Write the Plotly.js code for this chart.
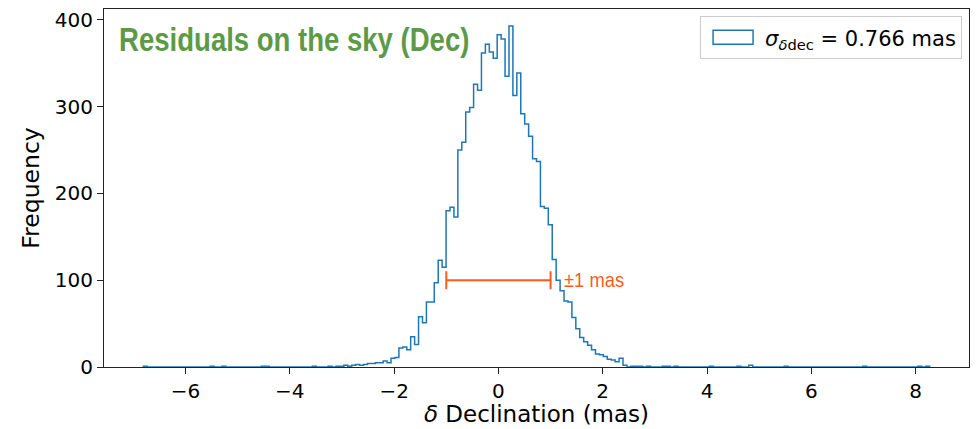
<!DOCTYPE html>
<html>
<head>
<meta charset="utf-8">
<script src="https://cdn.plot.ly/plotly-3.0.1.min.js"></script>
<style>
  html, body { margin: 0; padding: 0; background: #ffffff; }
  #chart { width: 978px; height: 429px; }
  /* condensed look for the heading and the scale-bar label */
  .annotation-text { transform-box: fill-box; transform-origin: 0% 50%; }
</style>
</head>
<body>
<div id="chart"></div>
<script>
// Declination residuals, 200 equal-width bins (step outline)
const binStart = -6.81;
const binWidth = 0.0754;
const counts = [
  1, 0, 0, 0, 0, 0, 0, 0, 0, 0,
  0, 0, 0, 0, 0, 0, 0, 1, 0, 0,
  1, 0, 0, 0, 0, 0, 0, 0, 0, 0,
  1, 1, 0, 0, 0, 0, 0, 0, 0, 0,
  0, 0, 0, 1, 0, 0, 0, 1, 0, 1,
  1, 2, 1, 2, 3, 2, 3, 4, 4, 5,
  5, 7, 5, 10, 11, 22, 23, 20, 35, 26,
  58, 51, 75, 75, 97, 123, 115, 180, 184, 173,
  250, 259, 294, 299, 326, 319, 362, 372, 363, 356,
  383, 378, 335, 393, 313, 339, 292, 280, 266, 240,
  237, 185, 183, 164, 124, 100, 88, 76, 75, 57,
  44, 34, 29, 25, 20, 15, 14, 12, 9, 8,
  6, 10, 2, 0, 1, 1, 1, 0, 1, 0,
  0, 0, 1, 1, 0, 1, 0, 0, 0, 0,
  0, 0, 0, 0, 1, 0, 0, 0, 0, 0,
  0, 1, 0, 0, 2, 0, 0, 0, 0, 0,
  0, 0, 0, 1, 0, 0, 0, 0, 0, 0,
  0, 0, 0, 0, 0, 0, 0, 0, 0, 0,
  0, 0, 0, 1, 0, 0, 0, 0, 0, 0,
  0, 0, 0, 0, 0, 0, 0, 1, 0, 1
];

const sigmaDec = 0.766;            // quoted scatter, mas
const scaleCenter = 0;             // ±1 mas scale bar
const scaleHalf = 1;
const scaleLevel = 100;

const xTickVals = [-6, -4, -2, 0, 2, 4, 6, 8];
const xTickText = ['\u22126', '\u22124', '\u22122', '0', '2', '4', '6', '8'];
const yTickVals = [0, 100, 200, 300, 400];
const yTickText = ['0', '100', '200', '300', '400'];

const histBlue = '#1f77b4';
const accent = '#ff5b1c';
const titleGreen = '#5d9a48';
const axisFont = 'DejaVu Sans, Liberation Sans, sans-serif';
const headFont = 'Liberation Sans, Arial, sans-serif';

// Step outline: up from zero at the first edge, across each bin, down at the last edge
const nBins = counts.length;
const edges = counts.map((_, i) => binStart + i * binWidth);
const lastEdge = binStart + nBins * binWidth;
const stepX = [binStart].concat(edges, [lastEdge]);
const stepY = [0].concat(counts, [0]);

// Axis limits with 5% padding, as a default histogram figure would have
const pad = 0.05 * (lastEdge - binStart);
const xRange = [binStart - pad, lastEdge + pad];
const yRange = [0, Math.max(...counts) * 1.05];

const traces = [
  {
    type: 'scatter',
    mode: 'lines',
    x: stepX,
    y: stepY,
    line: { shape: 'hv', color: histBlue, width: 1.5 },
    showlegend: false,
    hoverinfo: 'skip'
  },
  {
    // legend entry: empty box in the histogram colour
    type: 'bar',
    x: [null],
    y: [null],
    marker: { color: 'rgba(0,0,0,0)', line: { color: histBlue, width: 1.5 } },
    name: '<i>σ</i><sub><i>δ</i>dec</sub> = ' + sigmaDec.toFixed(3) + ' mas',
    showlegend: true
  },
  {
    // ±1 mas scale bar
    type: 'scatter',
    mode: 'markers',
    x: [scaleCenter],
    y: [scaleLevel],
    marker: { size: 1, color: 'rgba(0,0,0,0)' },
    error_x: { type: 'data', array: [scaleHalf], symmetric: true, color: accent, thickness: 2, width: 9 },
    showlegend: false,
    hoverinfo: 'skip'
  }
];

const axisCommon = {
  showline: true,
  mirror: true,
  linecolor: '#222222',
  linewidth: 1,
  ticks: 'outside',
  ticklen: 6,
  tickwidth: 1,
  tickcolor: '#222222',
  showgrid: false,
  zeroline: false,
  tickfont: { family: axisFont, size: 20, color: '#000000' }
};

const layout = {
  width: 978,
  height: 429,
  margin: { l: 104, r: 9, t: 9, b: 62 },
  paper_bgcolor: '#ffffff',
  plot_bgcolor: '#ffffff',
  bargap: 0,
  xaxis: Object.assign({}, axisCommon, {
    range: xRange,
    tickmode: 'array',
    tickvals: xTickVals,
    ticktext: xTickText,
    title: { text: '<i>δ</i> Declination (mas)', font: { family: axisFont, size: 23, color: '#000000' }, standoff: 1 }
  }),
  yaxis: Object.assign({}, axisCommon, {
    range: yRange,
    tickmode: 'array',
    tickvals: yTickVals,
    ticktext: yTickText,
    title: { text: 'Frequency', font: { family: axisFont, size: 23.5, color: '#000000' }, standoff: 8 }
  }),
  legend: {
    x: 0.992,
    y: 0.980,
    xanchor: 'right',
    yanchor: 'top',
    bgcolor: '#ffffff',
    bordercolor: '#cccccc',
    borderwidth: 1,
    itemwidth: 54,
    font: { family: axisFont, size: 21, color: '#000000' }
  },
  annotations: [
    {
      text: '<b>Residuals on the sky (Dec)</b>',
      xref: 'paper', yref: 'paper',
      x: 0.015, y: 0.916,
      xanchor: 'left', yanchor: 'middle',
      showarrow: false,
      font: { family: headFont, size: 34, color: titleGreen }
    },
    {
      text: '±' + scaleHalf + ' mas',
      xref: 'x', yref: 'y',
      x: scaleCenter + scaleHalf + 0.22, y: scaleLevel,
      xanchor: 'left', yanchor: 'middle',
      showarrow: false,
      font: { family: headFont, size: 20, color: accent }
    }
  ]
};

// Horizontal squeeze of each annotation text (heading, scale label)
const squeeze = [0.81, 0.92];

function finishStyling(gd) {
  gd.querySelectorAll('.legend .legendpoints path').forEach(function (p) {
    p.setAttribute('d', 'M20,7H-20V-7H20Z');
  });
  gd.querySelectorAll('.annotation-text').forEach(function (t, i) {
    if (squeeze[i] !== undefined) t.style.transform = 'scaleX(' + squeeze[i] + ')';
  });
  // x-axis title sits a little closer to its tick labels
  gd.querySelectorAll('.g-xtitle text').forEach(function (t) {
    t.style.transform = 'translateY(-2px)';
  });
}

Plotly.newPlot('chart', traces, layout, { staticPlot: true, displayModeBar: false }).then(function (gd) {
  finishStyling(gd);
  gd.on('plotly_afterplot', function () { finishStyling(gd); });
  setTimeout(function () { finishStyling(gd); }, 0);
});
</script>
</body>
</html>
